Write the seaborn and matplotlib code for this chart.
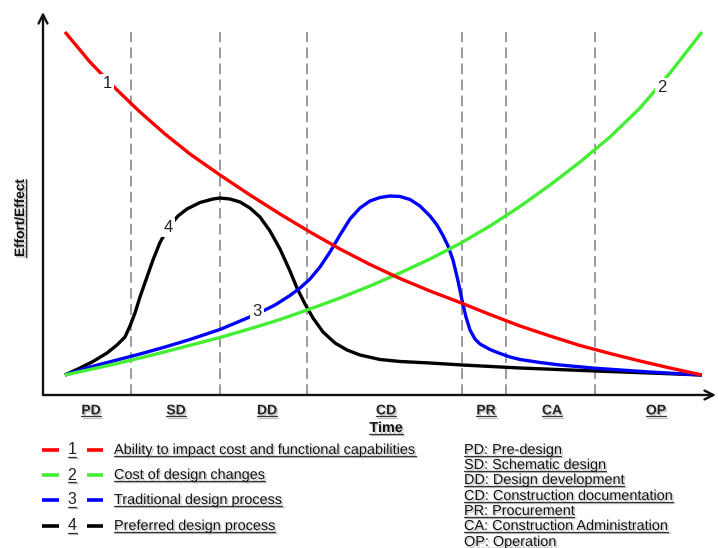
import numpy as np
import pandas as pd
import matplotlib
matplotlib.use("Agg")
import matplotlib.pyplot as plt
import seaborn as sns
from matplotlib.lines import Line2D
from matplotlib.transforms import IdentityTransform
import matplotlib.patheffects as pe

# ---------------- data (time 0-100, effort 0-100) ----------------
grid_t = [0, 3.92, 7.85, 11.77, 15.70, 19.62, 24.33, 29.04, 33.75, 38.46, 43.17,
          47.88, 52.59, 57.30, 62.01, 66.72, 71.43, 76.14, 80.85, 85.56, 90.27,
          94.98, 100]

red_t = grid_t
red_e = [100, 91.25, 83.67, 76.68, 70.26, 64.43, 58.31, 52.48, 46.94, 41.69, 36.73,
         32.22, 28.13, 24.49, 21.14, 17.64, 14.29, 11.37, 8.60, 6.27, 4.08,
         2.04, 0]

green_t = grid_t
green_e = [0, 1.60, 3.21, 4.96, 6.76, 8.66, 10.93, 13.47, 16.18, 19.24, 22.45,
           25.95, 29.74, 33.82, 38.34, 43.44, 49.13, 55.39, 62.10, 69.39, 77.84,
           88.05, 100]

blue_t = [0, 3.92, 7.85, 11.77, 15.70, 19.62, 24.33, 28.26, 30.61, 32.97, 35.32,
          36.89, 38.46, 40.03, 41.60, 43.17, 44.74, 46.31, 47.88, 49.45, 51.02,
          52.59, 54.16, 55.73, 57.30, 58.40, 59.34, 60.13, 60.91, 61.70, 62.32,
          62.95, 63.58, 64.36, 65.15, 66.72, 68.29, 69.86, 71.43, 74.57, 77.71,
          83.20, 91.84, 100]
blue_e = [0, 2.33, 4.23, 6.12, 8.16, 10.35, 13.27, 16.33, 18.22, 20.41, 23.18,
          25.36, 27.99, 31.49, 35.86, 40.82, 45.48, 48.69, 50.73, 51.75, 52.19,
          52.04, 51.17, 49.27, 46.36, 43.73, 40.67, 37.61, 33.53, 27.41, 21.87,
          16.91, 13.12, 10.50, 9.04, 7.43, 6.27, 5.25, 4.52, 3.64, 2.92,
          1.98, 0.87, 0]

black_t = [0, 2.35, 4.40, 6.59, 8.16, 9.42, 10.20, 10.99, 11.77, 12.87, 13.81,
           14.91, 16.17, 17.74, 19.15, 21.19, 23.23, 24.33, 25.90, 27.47, 29.04,
           30.61, 32.18, 33.75, 35.32, 36.42, 37.68, 38.93, 40.50, 42.39, 44.27,
           46.31, 49.45, 52.59, 57.30, 62.32, 71.43, 83.20, 91.84, 100]
black_e = [0, 2.04, 3.94, 6.41, 8.75, 11.08, 14.29, 18.08, 22.74, 28.57, 33.53,
           38.63, 42.86, 46.36, 48.40, 50.29, 51.31, 51.60, 51.31, 50.44, 48.69,
           46.06, 41.98, 36.73, 30.32, 25.36, 20.70, 16.62, 12.54, 9.33, 7.29,
           5.83, 4.52, 3.94, 3.50, 2.92, 2.04, 1.17, 0.58, 0]

series_ids = ["1", "2", "3", "4"]
series_names = ["Ability to impact cost and functional capabilities",
                "Cost of design changes",
                "Traditional design process",
                "Preferred design process"]
label_t = [6.59, 93.72, 30.14, 16.17]
label_e = [85.1, 83.7, 18.4, 42.9]

phase_bounds = [10.36, 24.33, 37.99, 62.32, 69.23, 83.20]
phase_codes = ["PD", "SD", "DD", "CD", "PR", "CA", "OP"]
phase_pos = [4.08, 17.43, 31.71, 50.39, 66.09, 76.45, 92.78]
phase_names = ["Pre-design", "Schematic design", "Design development",
               "Construction documentation", "Procurement",
               "Construction Administration", "Operation"]

# ---------------- styling ----------------
sns.set_theme(style="white")
plt.rcParams["font.family"] = ["Liberation Sans", "DejaVu Sans"]

W, H = 718, 548
fig = plt.figure(figsize=(W / 100, H / 100), dpi=100)
fig.patch.set_facecolor("white")
ax = fig.add_axes([43 / W, 153 / H, 673 / W, 383 / H])
ax.set_facecolor("white")
ax.set_xlim(-3.454, 102.2)
ax.set_ylim(-5.831, 105.83)
for s in ax.spines.values():
    s.set_visible(False)

colors = ["#ff0000", "#44ee33", "#0000ff", "#000000"]
curves = [(red_t, red_e), (green_t, green_e), (blue_t, blue_e), (black_t, black_e)]
zorders = [5, 4, 3, 2]

for (tt, ee), c, z in zip(curves, colors, zorders):
    df = pd.DataFrame({"t": tt, "e": ee})
    sns.lineplot(data=df, x="t", y="e", ax=ax, color=c, lw=2.4, zorder=z,
                 sort=False, legend=False, solid_joinstyle="round",
                 solid_capstyle="butt")

ax.vlines(phase_bounds, -5.831, 100, colors="#808080", lw=1.1,
          linestyles=(0, (7, 3.5)), zorder=1)

for lab, tx, ey, z in zip(series_ids, label_t, label_e, zorders):
    ax.text(tx, ey, lab, ha="center", va="center", fontsize=12, color="#222222",
            zorder=z + 0.5,
            bbox=dict(boxstyle="square,pad=0.12", fc="white", ec="none"))

# axes with arrows
arrow_kw = dict(arrowstyle="->", lw=1.7, color="#111111", shrinkA=0, shrinkB=0,
                mutation_scale=16)
ax.annotate("", xy=(0, 1), xytext=(0, 0), xycoords="axes fraction",
            arrowprops=arrow_kw, annotation_clip=False)
ax.annotate("", xy=(1, 0), xytext=(0, 0), xycoords="axes fraction",
            arrowprops=arrow_kw, annotation_clip=False)

shadow = [pe.withSimplePatchShadow(offset=(1.2, -1.2), shadow_rgbFace="#9a9a9a", alpha=0.55)]

ax.set_xticks(phase_pos)
ax.set_xticklabels(phase_codes, fontsize=10, fontweight="bold", color="#222222")
ax.tick_params(axis="x", length=0, pad=6)
ax.set_yticks([])
for tl in ax.get_xticklabels():
    tl.set_path_effects(shadow)

ax.set_xlabel("Time", fontsize=10.4, fontweight="bold", color="#111111")
ax.xaxis.set_label_coords((386 - 43) / 673, (395 - 428) / 383)
ax.xaxis.label.set_va("center")
ax.xaxis.label.set_path_effects(shadow)
ax.set_ylabel("Effort/Effect", fontsize=9.8, fontweight="bold", color="#111111")
ax.yaxis.set_label_coords((20 - 43) / 673, (395 - 218) / 383)
ax.yaxis.label.set_va("center")
ax.yaxis.label.set_path_effects(shadow)

under = list(ax.get_xticklabels()) + [ax.xaxis.label, ax.yaxis.label]

# legend (left)
rows_y = [450, 475, 500, 526]
for i, (sid, name, c) in enumerate(zip(series_ids, series_names, colors)):
    fy = 1 - rows_y[i] / H
    for x0, x1 in [(42, 59), (87, 103)]:
        fig.add_artist(Line2D([x0 / W, x1 / W], [fy, fy], transform=fig.transFigure,
                              color=c, lw=2.6, solid_capstyle="butt"))
    tn = fig.text(72 / W, fy, sid, ha="center", va="center", fontsize=11.5,
                  color="#222222")
    tx = fig.text(114 / W, fy, name, ha="left", va="center", fontsize=10.4,
                  color="#111111", path_effects=shadow)
    under += [tn, tx]

# phase glossary (right)
gl_y = [450, 465, 480, 496, 511, 526, 542]
for code, name, y in zip(phase_codes, phase_names, gl_y):
    t = fig.text(464 / W, 1 - y / H, f"{code}: {name}", ha="left", va="center",
                 fontsize=10.4, color="#111111", path_effects=shadow)
    under.append(t)

# underlines
fig.canvas.draw()
r = fig.canvas.get_renderer()
for t in under:
    bb = t.get_window_extent(r)
    if t is ax.yaxis.label:
        x = bb.x1 - 1.0
        ln = Line2D([x, x], [bb.y0, bb.y1], transform=IdentityTransform(),
                    color="#333333", lw=0.9)
    else:
        y = bb.y0 + 1.0
        ln = Line2D([bb.x0, bb.x1], [y, y], transform=IdentityTransform(),
                    color="#333333", lw=0.9)
    ln.set_path_effects([pe.SimpleLineShadow(offset=(1, -1), shadow_color="#999999",
                                             alpha=0.6), pe.Normal()])
    fig.add_artist(ln)

fig.savefig("out.png", dpi=100, facecolor="white")
